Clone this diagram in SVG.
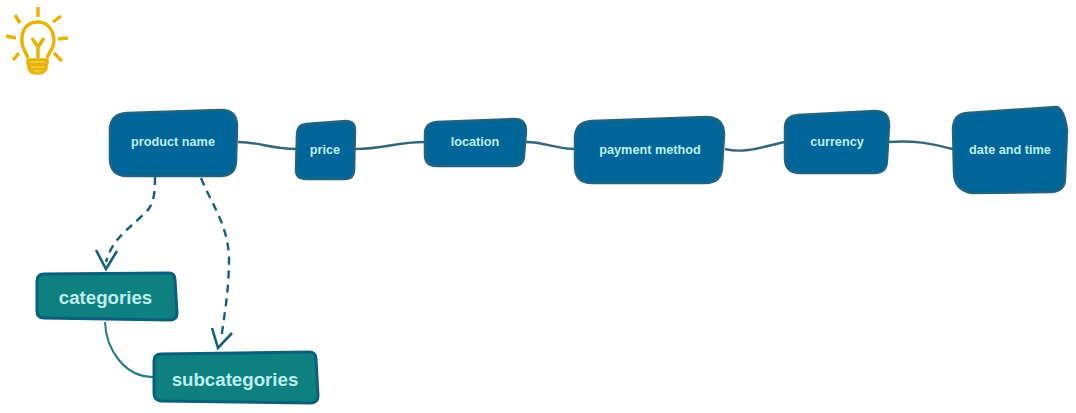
<svg xmlns="http://www.w3.org/2000/svg" width="1076" height="413" viewBox="0 0 1076 413">
<style>
.n{fill:#006699;stroke:#1f6480;stroke-width:2.5;stroke-linejoin:round}
.c{fill:#0e8080;stroke:#0a5f7d;stroke-width:3;stroke-linejoin:round}
.t{font-family:"Liberation Sans",Arial,sans-serif;font-size:12.7px;font-weight:700;fill:#bdeeee;text-anchor:middle}
.tb{font-family:"Liberation Sans",Arial,sans-serif;font-size:18.7px;font-weight:700;fill:#bdeeee;text-anchor:middle}
.l{fill:none;stroke:#34667a;stroke-width:2.4}
.d{fill:none;stroke:#17607a;stroke-width:2.4;stroke-dasharray:8 6}
.h{fill:none;stroke:#17607a;stroke-width:2.6}
.b{fill:none;stroke:#e6b400;stroke-width:3.4;stroke-linejoin:round}
</style>
<g id="bulb">
<path class="b" d="M38 7V17M15 15L20 23M61 16L53 22M6 36L16 38M58 39L68 38M13 60L19 53M62 61L54 53"/>
<path class="b" d="M28 58C26 52 22 48 22 42C21 30 27 22 38 22C48 22 54 31 54 41C54 48 49 52 47 58"/>
<path class="b" d="M32 38L38 47L44 38M38 47V58"/>
<path class="b" d="M28 60H47V64H28ZM29 65H46V69H29ZM30 69H45C45 73 41 73 38 73C34 73 30 73 30 69Z"/>
</g>
<g id="connectors">
<path class="l" d="M238 142C260 142 270 149 296 149"/>
<path class="l" d="M355 149C385 149 395 142 425 142"/>
<path class="l" d="M526 142C545 142 555 149 575 149"/>
<path class="l" d="M725 149C745 154 765 146 785 142"/>
<path class="l" d="M889 142C920 140 935 145 953 149"/>
<path class="d" d="M155 177C155 200 152 207 143 215C125 232 112 240 106 262"/>
<path class="h" d="M96 250L106 269L117 251"/>
<path class="d" d="M201 178C212 205 228 225 229 258C229 290 225 310 221 340"/>
<path class="h" d="M212 328L218 348L232 333"/>
<path d="M105 322C106 350 125 377 153 377" fill="none" stroke="#1f7a80" stroke-width="2"/>
</g>
<g id="product-name">
<path class="n" d="M127 113L221 110Q237 110 237 126L236 160Q236 176 220 176L127 176Q111 176 110 160L110 130Q110 114 127 113Z"/>
<text class="t" x="173" y="146">product name</text>
</g>
<g id="price">
<path class="n" d="M306 124L346 121Q355 121 355 130L354 170Q354 179 345 179L306 179Q296 179 296 170L297 134Q297 125 306 124Z"/>
<text class="t" x="325" y="154">price</text>
</g>
<g id="location">
<path class="n" d="M437 122L514 119Q526 119 526 131L524 155Q524 166 513 166L437 166Q425 166 425 155L425 134Q425 123 437 122Z"/>
<text class="t" x="475" y="146">location</text>
</g>
<g id="payment-method">
<path class="n" d="M592 121L706 117Q724 117 724 135L722 166Q722 183 705 183L592 183Q575 183 575 166L575 138Q575 122 592 121Z"/>
<text class="t" x="650" y="154">payment method</text>
</g>
<g id="currency">
<path class="n" d="M798 115L875 111Q889 111 889 125L887 160Q887 173 874 173L800 173Q785 173 785 158L785 128Q785 116 798 115Z"/>
<text class="t" x="837" y="146">currency</text>
</g>
<g id="date-and-time">
<path class="n" d="M967 113L1056 107Q1064 108 1067 130L1065 178Q1065 192 1050 192L972 193Q954 190 954 172L953 128Q954 114 967 113Z"/>
<text class="t" x="1010" y="154">date and time</text>
</g>
<g id="categories">
<path class="c" d="M44 274L169 273Q175 273 175 280L177 313Q177 320 170 320L44 318Q37 318 37 311L37 281Q37 274 44 274Z"/>
<text class="tb" x="105.500" y="304">categories</text>
</g>
<g id="subcategories">
<path class="c" d="M161 354L309 352Q316 352 316 359L318 396Q318 403 310 403L161 401Q154 400 154 393L154 361Q154 354 161 354Z"/>
<text class="tb" x="235" y="386">subcategories</text>
</g>
</svg>
